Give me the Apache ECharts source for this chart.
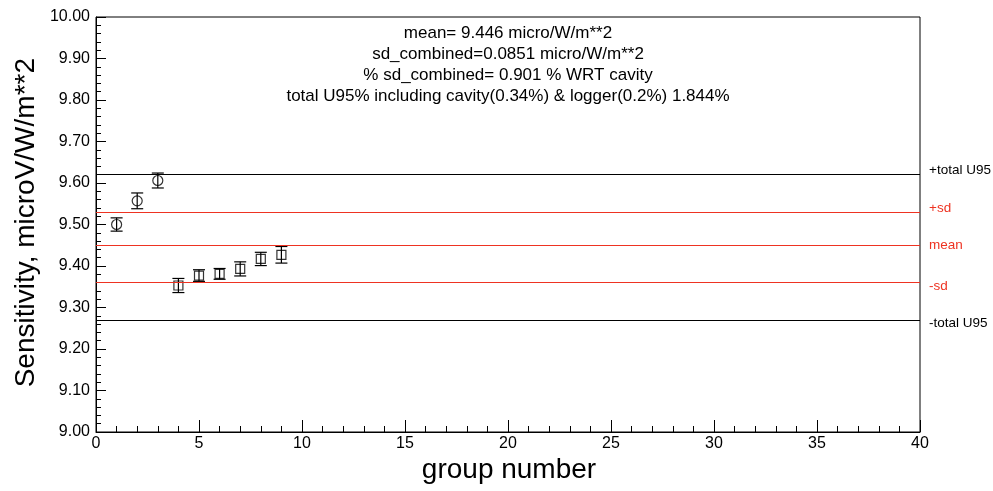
<!DOCTYPE html>
<html><head><meta charset="utf-8">
<script src="https://cdn.jsdelivr.net/npm/echarts@6/dist/echarts.min.js"></script>
<style>html,body{margin:0;padding:0;background:#fff}#c{width:993px;height:491px}</style>
</head><body><div id="c"></div>
<script>
const groups = [1, 2, 3, 4, 5, 6, 7, 8, 9];
const sensitivity = [9.500, 9.557, 9.606, 9.353, 9.377, 9.381, 9.393, 9.417, 9.427];
const errors = [0.016, 0.019, 0.018, 0.017, 0.014, 0.013, 0.017, 0.016, 0.020];
const markerShapes = ['circle', 'circle', 'circle', 'rect', 'rect', 'rect', 'rect', 'rect', 'rect'];
const refNames = ['+total U95', '+sd', 'mean', '-sd', '-total U95'];
const refValues = [9.620, 9.531, 9.446, 9.361, 9.272];
const refColors = ['#000000', '#ee3322', '#ee3322', '#ee3322', '#000000'];
const refLabelShift = [-4, -4, 0, 4, 3.5];
const infoLines = [
  'mean= 9.446 micro/W/m**2',
  'sd_combined=0.0851 micro/W/m**2',
  '% sd_combined= 0.901 % WRT cavity',
  'total U95% including cavity(0.34%) & logger(0.2%) 1.844%'
];
const xTitle = 'group number';
const yTitle = 'Sensitivity, microV/W/m**2';
const FONT = 'Liberation Sans, Arial, sans-serif';

const chart = echarts.init(document.getElementById('c'));
const pts = groups.map((g, i) => [g, sensitivity[i], errors[i]]);

chart.setOption({
  animation: false,
  grid: { left: 96, right: 73, top: 17, bottom: 59, show: true, borderColor: '#000', borderWidth: 1,
          containLabel: false, outerBoundsMode: 'none' },
  xAxis: {
    type: 'value', min: 0, max: 40, interval: 5,
    axisLine: { show: true, lineStyle: { color: '#000' } },
    axisTick: { inside: true, length: 12, lineStyle: { color: '#000' } },
    minorTick: { show: true, splitNumber: 5, length: 6, lineStyle: { color: '#000' } },
    splitLine: { show: false },
    axisLabel: { fontFamily: FONT, fontSize: 16, color: '#000', margin: 4 }
  },
  yAxis: {
    type: 'value', min: 9.0, max: 10.0, interval: 0.1,
    axisLine: { show: true, lineStyle: { color: '#000' } },
    axisTick: { inside: true, length: 10, lineStyle: { color: '#000' } },
    minorTick: { show: true, splitNumber: 5, length: 5, lineStyle: { color: '#000' } },
    splitLine: { show: false },
    axisLabel: { fontFamily: FONT, fontSize: 16, color: '#000', margin: 6, formatter: v => v.toFixed(2) }
  },
  series: [
    {
      type: 'line', data: [], silent: true,
      markLine: {
        symbol: 'none', silent: true,
        data: refValues.map((v, i) => ({
          yAxis: v,
          lineStyle: { color: refColors[i], width: 1.2, type: 'solid' },
          label: { show: true, position: 'end', formatter: refNames[i], color: refColors[i],
                   fontFamily: FONT, fontSize: 13.5, distance: 9, offset: [0, refLabelShift[i]] }
        }))
      }
    },
    {
      type: 'custom',
      data: pts,
      renderItem: function (params, api) {
        const x = api.value(0), y = api.value(1), e = api.value(2);
        const top = api.coord([x, y + e]);
        const bot = api.coord([x, y - e]);
        const cw = 6;
        const st = { stroke: '#000', lineWidth: 1.2 };
        return {
          type: 'group',
          children: [
            { type: 'line', shape: { x1: top[0], y1: top[1], x2: bot[0], y2: bot[1] }, style: st },
            { type: 'line', shape: { x1: top[0] - cw, y1: top[1], x2: top[0] + cw, y2: top[1] }, style: st },
            { type: 'line', shape: { x1: bot[0] - cw, y1: bot[1], x2: bot[0] + cw, y2: bot[1] }, style: st }
          ]
        };
      },
      z: 3
    },
    {
      type: 'scatter',
      data: pts.map((p, i) => ({ value: [p[0], p[1]], symbol: markerShapes[i], symbolSize: markerShapes[i] === 'circle' ? 10 : 9 })),
      itemStyle: { color: 'rgba(0,0,0,0)', borderColor: '#000', borderWidth: 1.2 },
      z: 4
    }
  ],
  graphic: infoLines.map((t, i) => ({
    type: 'text', x: 508, y: 33 + i * 21,
    style: { text: t, fontFamily: FONT, fontSize: 17, fill: '#000', textAlign: 'center', textVerticalAlign: 'middle' }
  })).concat([
    { type: 'text', x: 509, y: 470,
      style: { text: xTitle, fontFamily: FONT, fontSize: 28, fill: '#000', textAlign: 'center', textVerticalAlign: 'middle' } },
    { type: 'text', x: 26, y: 58, rotation: Math.PI / 2,
      style: { text: yTitle, fontFamily: FONT, fontSize: 28, fill: '#000', textAlign: 'right', textVerticalAlign: 'middle' } }
  ])
});
</script></body></html>
